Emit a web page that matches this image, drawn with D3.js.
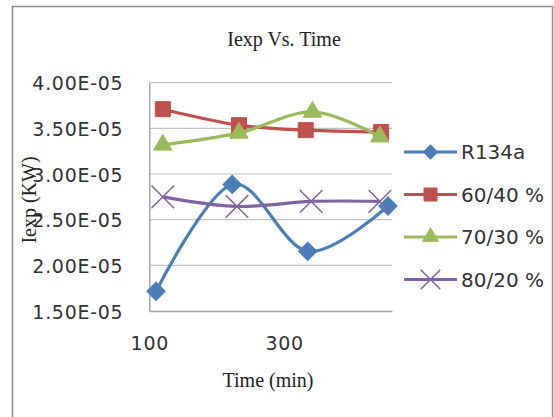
<!DOCTYPE html>
<html>
<head>
<meta charset="utf-8">
<script src="https://cdn.jsdelivr.net/npm/d3@7"></script>
<style>
  body { margin: 0; background: #fff; }
</style>
</head>
<body>
<div id="chart"></div>
<script>
// Data (values in units of 1e-5 KW)
const seriesNames = ["R134a", "60/40 %", "70/30 %", "80/20 %"];
const timeR134a = [110, 223, 335, 454];
const time6040 = [120, 233, 332, 444];
const time7030 = [120, 233, 342, 442];
const time8020 = [120, 230, 340, 442];
const iexpR134a = [1.715e-5, 2.886e-5, 2.154e-5, 2.65e-5];
const iexp6040 = [3.71e-5, 3.535e-5, 3.48e-5, 3.46e-5];
const iexp7030 = [3.32e-5, 3.45e-5, 3.68e-5, 3.41e-5];
const iexp8020 = [2.75e-5, 2.645e-5, 2.70e-5, 2.70e-5];
const xTicks = [100, 300];
const yTicks = [1.5e-5, 2.0e-5, 2.5e-5, 3.0e-5, 3.5e-5, 4.0e-5];

const width = 554, height = 417;
const plot = { left: 149.3, right: 392, top: 82.7, bottom: 311 };

const series = [
    { name: seriesNames[0], t: timeR134a, v: iexpR134a, color: "#4a7ebb", marker: "diamond" },
    { name: seriesNames[1], t: time6040, v: iexp6040, color: "#c0504d", marker: "square" },
    { name: seriesNames[2], t: time7030, v: iexp7030, color: "#9bbb59", marker: "triangle" },
    { name: seriesNames[3], t: time8020, v: iexp8020, color: "#8064a2", marker: "x" }
];

const svg = d3.select("#chart")
    .append("svg")
    .attr("width", width)
    .attr("height", height);

// outer chart border
svg.append("rect")
    .attr("x", 12.5)
    .attr("y", 6.5)
    .attr("width", 540)
    .attr("height", 430)
    .attr("fill", "white")
    .attr("stroke", "#8c8c8c")
    .attr("stroke-width", 1.5);

const x = d3.scaleLinear().domain([100, 460]).range([plot.left, plot.right]);
const y = d3.scaleLinear().domain([1.5e-5, 4.0e-5]).range([plot.bottom, plot.top]);

// Excel style "4.00E-05"
function sci(d) {
    const parts = d.toExponential(2).split("e");
    const e = +parts[1];
    const sign = e < 0 ? "-" : "+";
    return parts[0] + "E" + sign + String(Math.abs(e)).padStart(2, "0");
}

// gridlines
svg.append("g")
    .selectAll("line")
    .data(yTicks.slice(1))
    .join("line")
    .attr("x1", plot.left)
    .attr("x2", plot.right)
    .attr("y1", d => y(d))
    .attr("y2", d => y(d))
    .attr("stroke", "#c4c4c4")
    .attr("stroke-width", 1.2);

// y axis
const yAxis = d3.axisLeft(y).tickValues(yTicks).tickFormat(sci).tickSize(0).tickPadding(26);
const gy = svg.append("g")
    .attr("transform", `translate(${plot.left},0)`)
    .call(yAxis);
gy.select(".domain").attr("stroke", "#a6a6a6").attr("stroke-width", 1.5);
gy.selectAll("text")
    .style("font-family", "DejaVu Sans")
    .style("font-size", "19px")
    .style("letter-spacing", "0.7px")
    .attr("fill", "#333")
    .attr("dy", "0.38em");

// x axis
const xAxis = d3.axisBottom(x).tickValues(xTicks).tickFormat(d3.format("d")).tickSize(0).tickPadding(26);
const gx = svg.append("g")
    .attr("transform", `translate(0,${plot.bottom})`)
    .call(xAxis);
gx.select(".domain").attr("stroke", "#a6a6a6").attr("stroke-width", 1.5);
gx.selectAll("text")
    .style("font-family", "DejaVu Sans")
    .style("font-size", "19px")
    .style("letter-spacing", "0.7px")
    .attr("fill", "#333");

// titles
svg.append("text")
    .attr("x", 284)
    .attr("y", 45.5)
    .attr("text-anchor", "middle")
    .style("font-family", "Liberation Serif")
    .style("font-size", "20px")
    .attr("fill", "#222")
    .text("Iexp Vs. Time");

svg.append("text")
    .attr("x", 268)
    .attr("y", 386.5)
    .attr("text-anchor", "middle")
    .style("font-family", "Liberation Serif")
    .style("font-size", "20px")
    .attr("fill", "#222")
    .text("Time (min)");

svg.append("text")
    .attr("transform", "translate(36,200) rotate(-90)")
    .attr("text-anchor", "middle")
    .style("font-family", "Liberation Serif")
    .style("font-size", "20px")
    .attr("fill", "#222")
    .text("Iexp (KW)");

// markers
function drawMarker(g, type, color, s) {
    if (type === "diamond") {
        g.append("path")
            .attr("d", d3.symbol(d3.symbolSquare, s * s))
            .attr("transform", "rotate(45)")
            .attr("fill", color)
            .attr("stroke", color);
    } else if (type === "square") {
        g.append("path")
            .attr("d", d3.symbol(d3.symbolSquare, s * s))
            .attr("fill", color)
            .attr("stroke", color);
    } else if (type === "triangle") {
        g.append("path")
            .attr("d", d3.symbol(d3.symbolTriangle, s * s * 0.65))
            .attr("fill", color)
            .attr("stroke", color);
    } else {
        g.append("path")
            .attr("d", d3.symbol(d3.symbolX, s * s * 1.5))
            .attr("fill", "none")
            .attr("stroke", color)
            .attr("stroke-width", 1.5);
    }
}

const line = d3.line()
    .x(d => x(d[0]))
    .y(d => y(d[1]))
    .curve(d3.curveCardinal.tension(0));

series.forEach(s => {
    const pts = s.t.map((t, i) => [t, s.v[i]]);
    svg.append("path")
        .datum(pts)
        .attr("d", line)
        .attr("fill", "none")
        .attr("stroke", s.color)
        .attr("stroke-width", 3.2);
    pts.forEach(p => {
        const g = svg.append("g").attr("transform", `translate(${x(p[0])},${y(p[1])})`);
        drawMarker(g, s.marker, s.color, s.marker === "diamond" ? 13 : 15);
    });
});

// legend
const legend = svg.append("g").attr("transform", "translate(404,152)");
series.forEach((s, i) => {
    const g = legend.append("g").attr("transform", `translate(0,${i * 42.5})`);
    g.append("line")
        .attr("x1", 0)
        .attr("x2", 53)
        .attr("stroke", s.color)
        .attr("stroke-width", 3.2);
    const m = g.append("g").attr("transform", "translate(26.5,0)");
    drawMarker(m, s.marker, s.color, s.marker === "diamond" ? 10 : 13);
    g.append("text")
        .attr("x", 57)
        .attr("y", 0)
        .attr("dy", "0.36em")
        .style("font-family", "DejaVu Sans")
        .style("font-size", "20px")
        .attr("fill", "#333")
        .text(s.name);
});
</script>
</body>
</html>
